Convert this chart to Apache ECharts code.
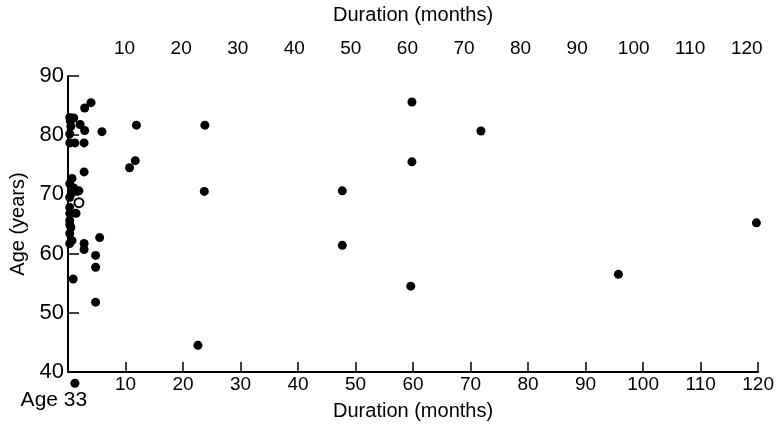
<!DOCTYPE html>
<html>
<head>
<meta charset="utf-8">
<script src="https://cdn.jsdelivr.net/npm/echarts@6/dist/echarts.min.js"></script>
<style>
  html, body { margin: 0; padding: 0; background: #fff; }
  #main { width: 777px; height: 429px; }
</style>
</head>
<body>
<div id="main"></div>
<script>
// duration (months) and age (years) of each patient
var durations = [4.0, 2.9, 1.0, 0.4, 2.1, 0.5, 2.9, 5.9, 0.3, 1.2, 2.8, 0.3,
    11.9, 11.7, 10.7, 23.8, 23.7, 22.6, 2.8, 0.7, 0.3, 1.0, 1.9, 0.3,
    1.4, 0.3, 0.3, 0.5, 0.3, 0.7, 0.3, 2.8, 2.8, 5.5, 4.8, 4.8, 0.9, 4.8,
    59.8, 59.8, 47.7, 47.7, 59.6, 71.8, 119.7, 95.7,
    0.3, 0.3, 0.6, 0.3];
var ages = [85.5, 84.6, 82.9, 82.4, 81.8, 81.5, 80.8, 80.6, 80.2, 78.7, 78.7, 78.7,
    81.7, 75.7, 74.5, 81.7, 70.5, 44.5, 73.8, 72.7, 71.8, 71.1, 70.6, 69.5,
    66.8, 66.8, 65.6, 64.4, 63.4, 62.2, 61.7, 61.7, 60.7, 62.7, 59.7, 57.7, 55.7, 51.8,
    85.6, 75.5, 70.6, 61.4, 54.5, 80.7, 65.2, 56.5,
    83.0, 67.8, 70.2, 64.9];
// open circle
var openDuration = [1.9];
var openAge = [68.6];
// the 33 year old patient, drawn below the axis (off scale)
var outlierDuration = [1.2];
var outlierPlotAge = [38.1];
var outlierText = 'Age 33';

var xTicks = [10, 20, 30, 40, 50, 60, 70, 80, 90, 100, 110, 120];

function zip(a, b) {
    return a.map(function (v, i) { return [v, b[i]]; });
}

var font = 'Liberation Sans, Arial, sans-serif';
var chart = echarts.init(document.getElementById('main'));
var option = {
    backgroundColor: '#fff',
    animation: false,
    textStyle: { fontFamily: font, color: '#000' },
    grid: { left: 66, right: 16, top: 75, bottom: 57 },
    xAxis: [
        {
            type: 'value',
            min: 0, max: 120, interval: 10,
            position: 'bottom',
            name: 'Duration (months)',
            nameLocation: 'middle',
            nameGap: 29,
            nameTextStyle: { fontSize: 20, color: '#000', fontFamily: font },
            axisLine: { onZero: false, lineStyle: { color: '#000', width: 2 } },
            axisTick: { inside: true, length: 10, lineStyle: { color: '#000', width: 1.5 } },
            axisLabel: {
                margin: 3, fontSize: 19, color: '#000', fontFamily: font,
                formatter: function (v) { return xTicks.indexOf(v) >= 0 ? String(v) : ''; }
            },
            splitLine: { show: false }
        },
        {
            type: 'value',
            min: 0, max: 122, interval: 10,
            position: 'top',
            name: 'Duration (months)',
            nameLocation: 'middle',
            nameGap: 51,
            nameTextStyle: { fontSize: 20, color: '#000', fontFamily: font },
            axisLine: { show: false },
            axisTick: { show: false },
            axisLabel: {
                margin: 18, fontSize: 19, color: '#000', fontFamily: font,
                formatter: function (v) { return xTicks.indexOf(v) >= 0 ? String(v) : ''; }
            },
            splitLine: { show: false }
        }
    ],
    yAxis: {
        type: 'value',
        min: 40, max: 90, interval: 10,
        name: 'Age (years)',
        nameLocation: 'middle',
        nameGap: 40,
        nameTextStyle: { fontSize: 20, color: '#000', fontFamily: font },
        axisLine: { onZero: false, lineStyle: { color: '#000', width: 2 } },
        axisTick: { inside: true, length: 11, lineStyle: { color: '#000', width: 1.5 } },
        axisLabel: { margin: 4, fontSize: 22, color: '#000', fontFamily: font },
        splitLine: { show: false }
    },
    series: [
        {
            type: 'scatter',
            xAxisIndex: 0,
            symbolSize: 9,
            clip: false,
            itemStyle: { color: '#000', opacity: 1 },
            data: zip(durations, ages)
        },
        {
            type: 'scatter',
            xAxisIndex: 0,
            symbol: 'emptyCircle',
            symbolSize: 9,
            clip: false,
            itemStyle: { color: '#000', borderColor: '#000', borderWidth: 1.5, opacity: 1 },
            data: zip(openDuration, openAge)
        },
        {
            type: 'scatter',
            xAxisIndex: 0,
            symbolSize: 9,
            clip: false,
            itemStyle: { color: '#000', opacity: 1 },
            label: {
                show: true,
                position: 'bottom',
                distance: 2,
                offset: [-21, 0],
                fontSize: 21,
                color: '#000',
                fontFamily: font,
                formatter: function () { return outlierText; }
            },
            data: zip(outlierDuration, outlierPlotAge)
        }
    ]
};
chart.setOption(option);
</script>
</body>
</html>
